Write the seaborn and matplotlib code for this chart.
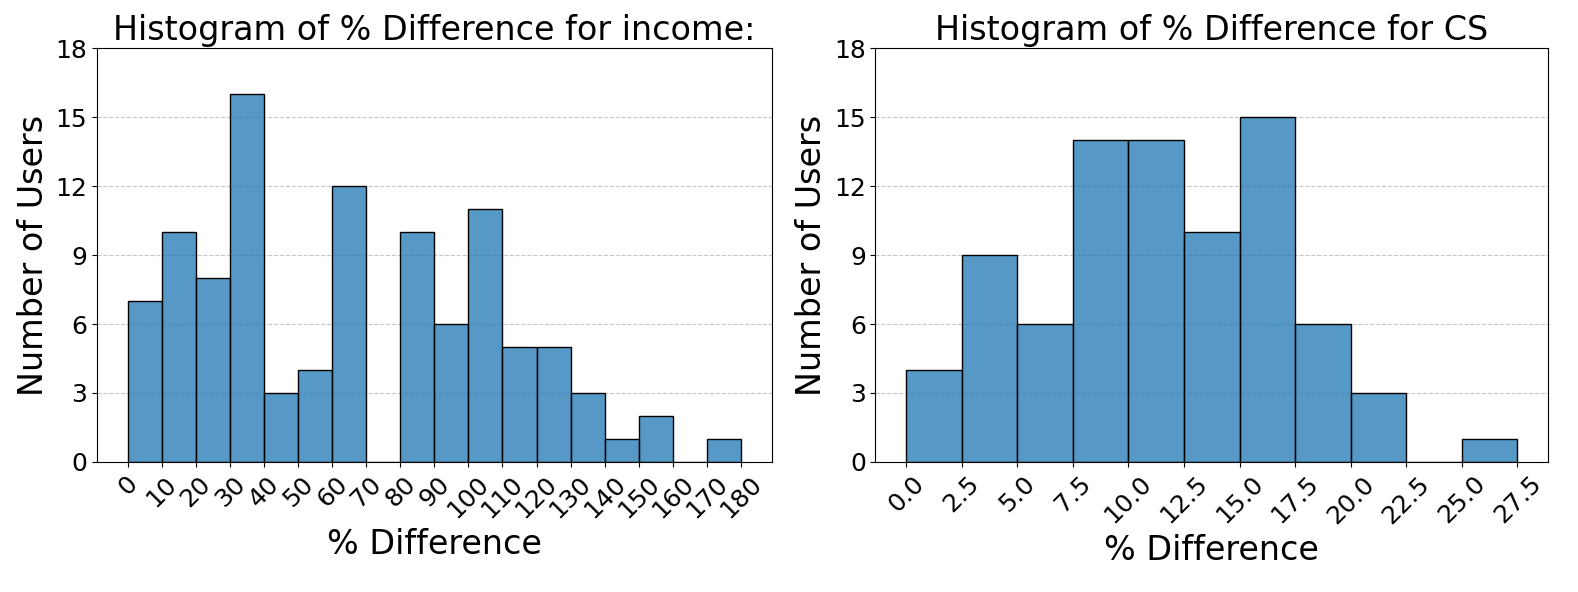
import numpy as np
import pandas as pd
import matplotlib
matplotlib.use("Agg")
import matplotlib.pyplot as plt
import seaborn as sns

# Data
income_edges = list(range(0, 190, 10))
income_counts = [7, 10, 8, 16, 3, 4, 12, 0, 10, 6, 11, 5, 5, 3, 1, 2, 0, 1]
cs_edges = [i * 2.5 for i in range(12)]
cs_counts = [4, 9, 6, 14, 14, 10, 15, 6, 3, 0, 1]
yticks = [0, 3, 6, 9, 12, 15, 18]
titles = ["Histogram of % Difference for income:", "Histogram of % Difference for CS"]
xlabel = "% Difference"
ylabel = "Number of Users"

fig = plt.figure(figsize=(15.78, 5.92), dpi=100)
ax1 = fig.add_axes([0.0615, 0.2196, 0.4275, 0.6993])
ax2 = fig.add_axes([0.5548, 0.2196, 0.4262, 0.6993])

def draw(ax, edges, counts, title, ticklabels):
    centers = [(edges[i] + edges[i + 1]) / 2 for i in range(len(counts))]
    df = pd.DataFrame({"x": centers, "w": counts})
    sns.histplot(data=df, x="x", weights="w", bins=edges, ax=ax,
                 color="#1f77b4", alpha=0.75, edgecolor="black", linewidth=1)
    ax.set_title(title, fontsize=24)
    ax.set_xlabel(xlabel, fontsize=24)
    ax.set_ylabel(ylabel, fontsize=24)
    ax.set_yticks(yticks)
    ax.set_ylim(0, 18)
    ax.set_xticks(edges)
    ax.set_xticklabels(ticklabels, rotation=45, fontsize=18)
    ax.tick_params(axis="y", labelsize=18)
    ax.grid(axis="y", linestyle="--", alpha=0.7)
    ax.set_axisbelow(True)
    pad = (edges[-1] - edges[0]) * 0.05
    ax.set_xlim(edges[0] - pad, edges[-1] + pad)

draw(ax1, income_edges, income_counts, titles[0], [str(e) for e in income_edges])
draw(ax2, cs_edges, cs_counts, titles[1], [f"{e:.1f}" for e in cs_edges])

fig.savefig("out.png", dpi=100)
